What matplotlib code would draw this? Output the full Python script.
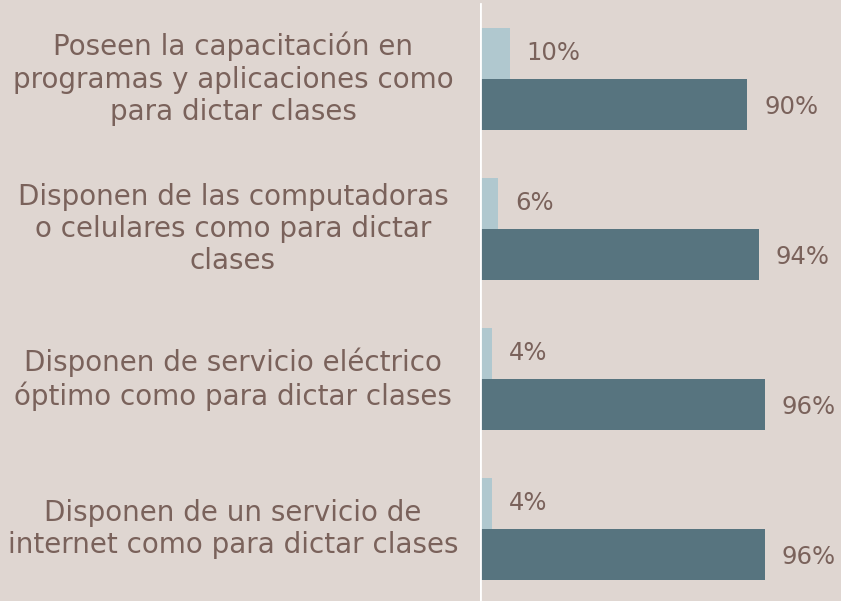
import numpy as np
import matplotlib
matplotlib.use('Agg')
import matplotlib.pyplot as plt

# categorias (de arriba hacia abajo)
categorias = [
    'Poseen la capacitación en\nprogramas y aplicaciones como\npara dictar clases',
    'Disponen de las computadoras\no celulares como para dictar\nclases',
    'Disponen de servicio eléctrico\nóptimo como para dictar clases',
    'Disponen de un servicio de\ninternet como para dictar clases',
]
no_valores = [10, 6, 4, 4]
si_valores = [90, 94, 96, 96]

fondo = '#dfd6d1'
col_claro = '#b0c8cf'
col_oscuro = '#57747f'
col_texto = '#7a625b'

plt.rcParams['font.family'] = ['DejaVu Sans']

W, H = 841, 601
fig = plt.figure(figsize=(W / 100, H / 100), dpi=100, facecolor=fondo)
ax = fig.add_axes([480 / W, 0, (W - 480) / W, 1])
ax.set_facecolor(fondo)

px_por_pct = 2.967
ax.set_xlim(0, (W - 480) / px_por_pct)
ax.set_ylim((H - 4) / 150, -4 / 150)

y = np.arange(len(categorias)) + 0.5
h = 0.34
ax.barh(y - h / 2, no_valores, height=h, color=col_claro)
ax.barh(y + h / 2, si_valores, height=h, color=col_oscuro)

ax.plot([0, 0], [0, 5], color='white', lw=2, clip_on=True)

for yi, v in zip(y, no_valores):
    ax.text(v + 17 / px_por_pct, yi - h / 2, f'{v}%', va='center', ha='left',
            fontsize=17.5, color=col_texto)
for yi, v in zip(y, si_valores):
    ax.text(v + 17 / px_por_pct, yi + h / 2 + 0.015, f'{v}%', va='center', ha='left',
            fontsize=17.5, color=col_texto)

trans = matplotlib.transforms.blended_transform_factory(fig.transFigure, ax.transData)
for yi, c in zip(y, categorias):
    ax.text(233 / W, yi, c, transform=trans, ha='center', va='center',
            fontsize=20, color=col_texto, linespacing=1.2, clip_on=False)

for s in ax.spines.values():
    s.set_visible(False)
ax.set_xticks([])
ax.set_yticks([])

fig.savefig('out.png', dpi=100, facecolor=fondo)
